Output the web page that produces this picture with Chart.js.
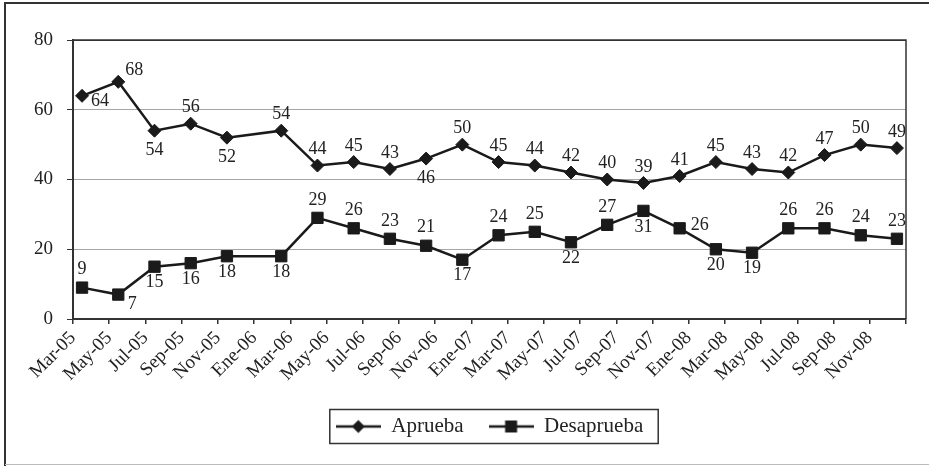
<!DOCTYPE html>
<html>
<head>
<meta charset="utf-8">
<script src="https://cdn.jsdelivr.net/npm/chart.js@4.4.1/dist/chart.umd.min.js"></script>
<style>
  html, body { margin: 0; padding: 0; background: #fff; }
</style>
</head>
<body>
<canvas id="grafico" width="929" height="466"></canvas>
<script>
// mes de cada medicion (aaaa-mm)
const encuestas = ['2005-03', '2005-05', '2005-07', '2005-09', '2005-11',
  '2006-02', '2006-04', '2006-06', '2006-08', '2006-10', '2006-12',
  '2007-02', '2007-04', '2007-06', '2007-08', '2007-10', '2007-12',
  '2008-02', '2008-04', '2008-06', '2008-08', '2008-10', '2008-12'];
const aprueba = [64, 68, 54, 56, 52, 54, 44, 45, 43, 46, 50, 45, 44, 42, 40, 39, 41, 45, 43, 42, 47, 50, 49];
const desaprueba = [9, 7, 15, 16, 18, 18, 29, 26, 23, 21, 17, 24, 25, 22, 27, 31, 26, 20, 19, 26, 26, 24, 23];
const etiquetasEje = ['Mar-05', 'May-05', 'Jul-05', 'Sep-05', 'Nov-05', 'Ene-06', 'Mar-06', 'May-06',
  'Jul-06', 'Sep-06', 'Nov-06', 'Ene-07', 'Mar-07', 'May-07', 'Jul-07', 'Sep-07', 'Nov-07',
  'Ene-08', 'Mar-08', 'May-08', 'Jul-08', 'Sep-08', 'Nov-08'];
// lado de cada etiqueta de valor: a arriba, b abajo, r derecha, ar / br en diagonal
const ladoAprueba = ['br', 'ar', 'b', 'a', 'b', 'a', 'a', 'a', 'a', 'b', 'a', 'a',
  'a', 'a', 'a', 'a', 'a', 'a', 'a', 'a', 'a', 'a', 'a'];
const ladoDesaprueba = ['a', 'br', 'b', 'b', 'b', 'b', 'a', 'a', 'a', 'a', 'b', 'a',
  'a', 'b', 'a', 'b', 'r', 'b', 'b', 'a', 'a', 'a', 'a'];

const NEGRO = '#1a1a1a';
const TEXTO = '#222';
const FUENTE = 'Liberation Serif';

// meses desde Mar-05, al centro del mes
const mesIndice = (s) => {
  const [a, m] = s.split('-').map(Number);
  return (a - 2005) * 12 + (m - 3) + 0.5;
};

// offsets de las etiquetas (diamante / cuadrado)
const offsets = [
  { a: [0, -16], b: [0, 20], ar: [16, -12], br: [18, 5], r: [20, -3] },
  { a: [0, -18], b: [0, 16], ar: [16, -12], br: [14, 10], r: [20, -3] }
];

// simbolo de leyenda: linea con marcador
function simbolo(tipo) {
  const c = document.createElement('canvas');
  c.width = 45; c.height = 16;
  const g = c.getContext('2d');
  g.strokeStyle = NEGRO; g.fillStyle = NEGRO; g.lineWidth = 2.5;
  g.beginPath(); g.moveTo(0, 8); g.lineTo(45, 8); g.stroke();
  g.beginPath();
  if (tipo === 'diamante') {
    g.moveTo(22.5, 1.5); g.lineTo(29, 8); g.lineTo(22.5, 14.5); g.lineTo(16, 8);
  } else {
    g.rect(16.5, 2, 12, 12);
  }
  g.fill();
  return c;
}
const simbolos = [simbolo('diamante'), simbolo('cuadrado')];

const etiquetasValor = {
  id: 'etiquetasValor',
  afterDatasetsDraw(chart) {
    const ctx = chart.ctx;
    ctx.save();
    ctx.font = '18px "' + FUENTE + '"';
    ctx.fillStyle = TEXTO;
    ctx.textAlign = 'center';
    ctx.textBaseline = 'middle';
    chart.data.datasets.forEach((ds, d) => {
      const meta = chart.getDatasetMeta(d);
      meta.data.forEach((pt, i) => {
        const [dx, dy] = offsets[d][ds.lados[i]];
        ctx.fillText(String(ds.data[i].y), pt.x + dx, pt.y + dy);
      });
    });
    ctx.restore();
  }
};

const marco = {
  id: 'marco',
  beforeDraw(chart) {
    const { ctx, width, height } = chart;
    ctx.save();
    ctx.fillStyle = '#fff';
    ctx.fillRect(0, 0, width, height);
    ctx.strokeStyle = '#333'; ctx.lineWidth = 2;
    ctx.beginPath(); ctx.moveTo(5, height); ctx.lineTo(5, 3); ctx.lineTo(width, 3); ctx.stroke();
    ctx.strokeStyle = '#bbb'; ctx.lineWidth = 1;
    ctx.beginPath(); ctx.moveTo(5, height - 1.5); ctx.lineTo(width, height - 1.5); ctx.stroke();
    ctx.restore();
  },
  beforeDatasetsDraw(chart) {
    const { ctx, chartArea: a } = chart;
    ctx.save();
    ctx.strokeStyle = '#333'; ctx.lineWidth = 1.5;
    ctx.beginPath(); ctx.moveTo(a.left, a.top); ctx.lineTo(a.right, a.top); ctx.lineTo(a.right, a.bottom); ctx.stroke();
    ctx.restore();
  },
  afterDraw(chart) {
    // recuadro de la leyenda
    const hb = chart.legend.legendHitBoxes;
    if (!hb || !hb.length) return;
    const last = hb[hb.length - 1];
    const x0 = hb[0].left - 6, x1 = last.left + last.width + 15;
    const cy = hb[0].top + hb[0].height / 2;
    const ctx = chart.ctx;
    ctx.save();
    ctx.strokeStyle = '#333'; ctx.lineWidth = 1.5;
    ctx.strokeRect(x0, cy - 17, x1 - x0, 34);
    ctx.restore();
  }
};

const ctx = document.getElementById('grafico');
new Chart(ctx, {
  type: 'line',
  data: {
    datasets: [
      {
        label: 'Aprueba',
        data: encuestas.map((f, i) => ({ x: mesIndice(f), y: aprueba[i] })),
        lados: ladoAprueba,
        borderColor: NEGRO,
        borderWidth: 2.5,
        pointStyle: 'rectRot',
        pointRadius: 6.5,
        pointBackgroundColor: NEGRO,
        pointBorderColor: NEGRO,
        pointBorderWidth: 1,
      },
      {
        label: 'Desaprueba',
        data: encuestas.map((f, i) => ({ x: mesIndice(f), y: desaprueba[i] })),
        lados: ladoDesaprueba,
        borderColor: NEGRO,
        borderWidth: 2.5,
        pointStyle: 'rect',
        pointRadius: 8,
        pointBackgroundColor: NEGRO,
        pointBorderColor: NEGRO,
        pointBorderWidth: 1,
      },
    ],
  },
  options: {
    responsive: false,
    animation: false,
    devicePixelRatio: 1,
    layout: { padding: { top: 40, left: 0, right: 23, bottom: 19 } },
    scales: {
      x: {
        type: 'linear',
        min: 0,
        max: 46,
        afterFit: (s) => { s.height = 72; },
        ticks: {
          stepSize: 2,
          autoSkip: false,
          minRotation: 45,
          maxRotation: 45,
          padding: 3,
          color: TEXTO,
          font: { family: FUENTE, size: 19 },
          callback: (v) => etiquetasEje[v / 2] || '',
        },
        grid: { drawOnChartArea: false, drawTicks: true, tickLength: 5, color: '#333', lineWidth: 1.5 },
        border: { display: true, color: '#333', width: 2 },
      },
      y: {
        min: 0,
        max: 80,
        afterFit: (s) => { s.width = 73; },
        ticks: { stepSize: 20, padding: 14, color: TEXTO, font: { family: FUENTE, size: 19 } },
        grid: {
          color: (c) => (c.tick && c.tick.value === 80 ? '#333' : '#a6a6a6'),
          tickColor: '#333',
          tickLength: 6,
          lineWidth: 1,
        },
        border: { display: true, color: '#333', width: 2 },
      },
    },
    plugins: {
      tooltip: { enabled: false },
      legend: {
        position: 'bottom',
        fullSize: false,
        labels: {
          usePointStyle: true,
          pointStyleWidth: 45,
          padding: 25,
          color: TEXTO,
          font: { family: FUENTE, size: 21 },
          generateLabels: (chart) => chart.data.datasets.map((ds, i) => ({
            text: ds.label,
            pointStyle: simbolos[i],
            datasetIndex: i,
            fontColor: TEXTO,
            fillStyle: NEGRO,
            strokeStyle: NEGRO,
            lineWidth: 0,
            hidden: false,
          })),
        },
      },
    },
  },
  plugins: [marco, etiquetasValor],
});
</script>
</body>
</html>
